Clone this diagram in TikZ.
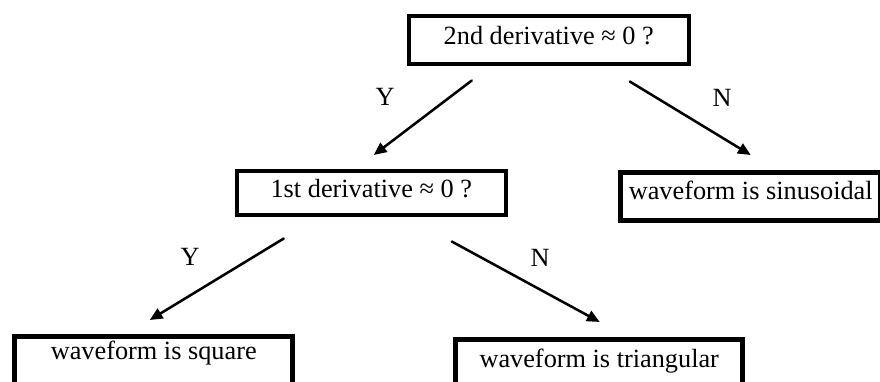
\documentclass[tikz,border=0pt]{standalone}
\usepackage{fontspec}
\setmainfont{Liberation Serif}
\usepackage{tikz}
\usetikzlibrary{arrows.meta}

\tikzset{
  testbox/.style={draw,line width=2.5pt,inner sep=0pt,anchor=north west},
  resultbox/.style={draw,line width=3.9pt,inner sep=0pt,anchor=north west},
  yn/.style={inner sep=0pt}
}

\begin{document}
\begin{tikzpicture}[>={Triangle[length=3.2mm,width=2.8mm]},font=\fontsize{18.7}{22}\selectfont,line cap=round]
\useasboundingbox (0,0) rectangle (22,9.525);
% questions
\node[testbox,minimum width=7cm,text height=0.725cm,text depth=0.475cm] (second) at (10.175,9.175) {2nd derivative ≈ 0 ?};
\node[testbox,minimum width=6.725cm,text height=0.675cm,text depth=0.425cm] (first) at (5.875,5.3) {1st derivative ≈ 0 ?};
% answers
\node[resultbox,minimum width=6.5cm,text height=0.675cm,text depth=0.525cm] (sine) at (15.45,5.275) {waveform is sinusoidal};
\node[resultbox,minimum width=6.95cm,text height=0.575cm,text depth=1.2cm] (square) at (0.3,1.175) {waveform is square};
\node[resultbox,minimum width=7.175cm,text height=0.7cm,text depth=1.2cm] (tri) at (11.325,1.1) {waveform is triangular};
% branches
\draw[->,line width=1.8pt] ([shift={(-1.925,-0.375)}]second.south) -- ([shift={(0.0625,0.35)}]first.north);
\draw[->,line width=1.8pt] ([shift={(2.025,-0.4)}]second.south) -- ([shift={(0,0.375)}]sine.north);
\draw[->,line width=1.8pt] ([shift={(-2.1875,-0.55)}]first.south) -- ([shift={(-0.1,0.35)}]square.north);
\draw[->,line width=1.8pt] ([shift={(2.0125,-0.625)}]first.south) -- ([shift={(0.0125,0.375)}]tri.north);
\node[yn] (y1) at (9.625,7.1) {Y};
\node[yn] (n1) at (18.05,7.075) {N};
\node[yn] (y2) at (4.75,3.1) {Y};
\node[yn] (n2) at (13.5,3.075) {N};
\end{tikzpicture}
\end{document}
